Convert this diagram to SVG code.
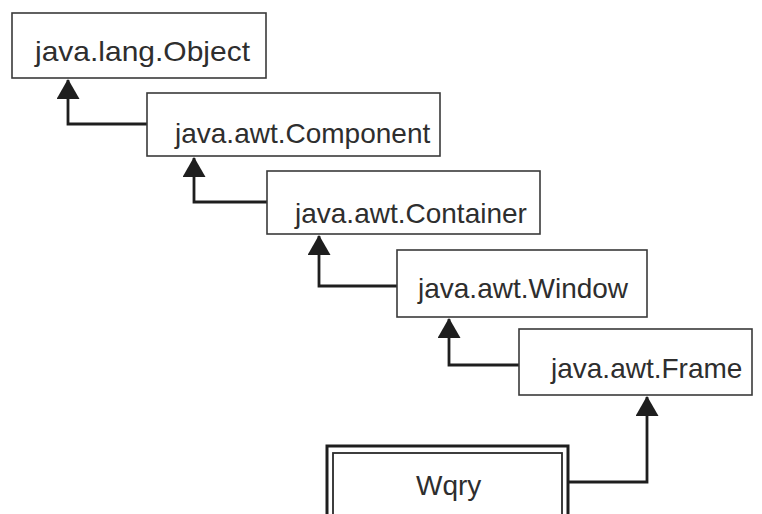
<svg xmlns="http://www.w3.org/2000/svg" width="762" height="514" viewBox="0 0 762 514">
  <defs>
    <style>
      .box { fill: #ffffff; stroke: #3a3a3a; stroke-width: 1.6; }
      .label { font-family: "Liberation Sans", Arial, sans-serif; font-size: 28px; fill: #2e2e2e; }
      .conn { fill: none; stroke: #1e1e1e; stroke-width: 2.8; stroke-linejoin: miter; }
    </style>
    <marker id="tri" markerUnits="userSpaceOnUse" markerWidth="20" markerHeight="23" viewBox="0 0 20 23" refX="19" refY="11.5" orient="auto">
      <path d="M0,0 L20,11.5 L0,23 Z" fill="#1e1e1e"/>
    </marker>
  </defs>
  <rect width="762" height="514" fill="#ffffff"/>

  <g id="connectors">
    <path class="conn" d="M148,124 H68 V80" marker-end="url(#tri)"/>
    <path class="conn" d="M268,202 H194 V158" marker-end="url(#tri)"/>
    <path class="conn" d="M398,286 H319 V236" marker-end="url(#tri)"/>
    <path class="conn" d="M520,365 H449 V319" marker-end="url(#tri)"/>
    <path class="conn" d="M566,482 H647 V397" marker-end="url(#tri)"/>
  </g>

  <g id="object">
    <rect class="box" x="12" y="13" width="254" height="65"/>
    <text class="label" x="35" y="61" textLength="215" lengthAdjust="spacingAndGlyphs">java.lang.Object</text>
  </g>
  <g id="component">
    <rect class="box" x="147" y="93" width="293" height="63"/>
    <text class="label" x="175" y="143">java.awt.Component</text>
  </g>
  <g id="container">
    <rect class="box" x="267" y="171" width="273" height="63"/>
    <text class="label" x="295" y="223">java.awt.Container</text>
  </g>
  <g id="window">
    <rect class="box" x="397" y="250" width="250" height="67"/>
    <text class="label" x="418" y="298">java.awt.Window</text>
  </g>
  <g id="frame">
    <rect class="box" x="519" y="329" width="233" height="66"/>
    <text class="label" x="551" y="378">java.awt.Frame</text>
  </g>
  <g id="wqry">
    <rect x="327" y="446" width="241" height="90" fill="#ffffff" stroke="#1e1e1e" stroke-width="3"/>
    <rect x="333" y="453" width="229" height="80" fill="none" stroke="#2a2a2a" stroke-width="1.8"/>
    <text class="label" x="416" y="495">Wqry</text>
  </g>
</svg>
